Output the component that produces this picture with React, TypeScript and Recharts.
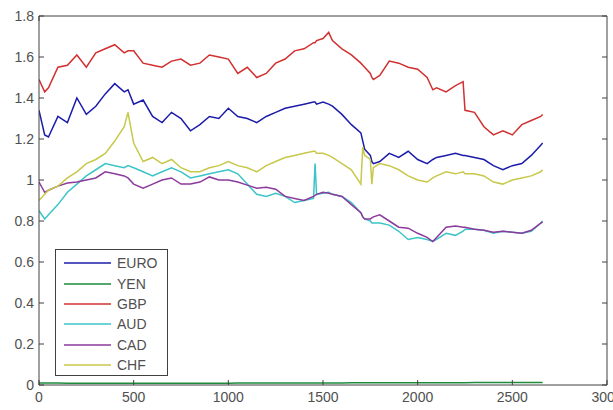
import React from 'react';
import { LineChart, Line, XAxis, YAxis, Legend } from 'recharts';

// trading day index
const days = [
  0, 30, 50, 100, 150, 200, 250, 300, 350, 400,
  450, 470, 500, 550, 600, 650, 700, 750, 800, 850,
  900, 950, 1000, 1050, 1100, 1150, 1200, 1250, 1300, 1350,
  1400, 1450, 1458, 1466, 1500, 1530, 1550, 1600, 1650, 1700,
  1710, 1720, 1750, 1758, 1766, 1800, 1850, 1900, 1950, 2000,
  2050, 2080, 2100, 2150, 2200, 2240, 2250, 2300, 2350, 2400,
  2450, 2500, 2550, 2600, 2650, 2660,
];

const euro = [
  1.34, 1.22, 1.21, 1.31, 1.28, 1.40, 1.32, 1.36, 1.42, 1.47,
  1.43, 1.44, 1.37, 1.39, 1.31, 1.28, 1.33, 1.30, 1.24, 1.27,
  1.31, 1.30, 1.35, 1.31, 1.30, 1.28, 1.31, 1.33, 1.35, 1.36,
  1.37, 1.38, 1.38, 1.37, 1.38, 1.37, 1.36, 1.32, 1.27, 1.23,
  1.19, 1.15, 1.12, 1.09, 1.08, 1.09, 1.13, 1.11, 1.14, 1.10,
  1.08, 1.10, 1.11, 1.12, 1.13, 1.12, 1.12, 1.11, 1.10, 1.07,
  1.05, 1.07, 1.08, 1.12, 1.17, 1.18,
];

const yen = [
  0.0094, 0.0093, 0.0093, 0.0092, 0.0091, 0.0090, 0.0089, 0.0088, 0.0087, 0.0086,
  0.0085, 0.0085, 0.0084, 0.0084, 0.0085, 0.0086, 0.0086, 0.0087, 0.0088, 0.0088,
  0.0089, 0.0090, 0.0091, 0.0092, 0.0093, 0.0094, 0.0095, 0.0096, 0.0097, 0.0098,
  0.0099, 0.0100, 0.0100, 0.0100, 0.0101, 0.0102, 0.0102, 0.0103, 0.0104, 0.0105,
  0.0105, 0.0105, 0.0106, 0.0106, 0.0106, 0.0107, 0.0108, 0.0109, 0.0110, 0.0110,
  0.0111, 0.0112, 0.0112, 0.0113, 0.0114, 0.0115, 0.0115, 0.0116, 0.0117, 0.0118,
  0.0119, 0.0120, 0.0120, 0.0121, 0.0121, 0.0122,
];

const gbp = [
  1.49, 1.43, 1.45, 1.55, 1.56, 1.61, 1.55, 1.62, 1.64, 1.66,
  1.62, 1.63, 1.63, 1.57, 1.56, 1.55, 1.58, 1.59, 1.56, 1.57,
  1.61, 1.60, 1.59, 1.52, 1.55, 1.50, 1.52, 1.57, 1.59, 1.63,
  1.64, 1.67, 1.67, 1.68, 1.69, 1.72, 1.68, 1.64, 1.61, 1.57,
  1.56, 1.55, 1.52, 1.50, 1.49, 1.51, 1.58, 1.57, 1.55, 1.54,
  1.50, 1.44, 1.45, 1.43, 1.46, 1.48, 1.34, 1.33, 1.26, 1.22,
  1.24, 1.22, 1.27, 1.29, 1.31, 1.32,
];

const aud = [
  0.85, 0.81, 0.83, 0.88, 0.94, 0.98, 1.02, 1.05, 1.08, 1.07,
  1.06, 1.07, 1.06, 1.04, 1.02, 1.04, 1.06, 1.04, 1.01, 1.02,
  1.03, 1.04, 1.05, 1.03, 0.98, 0.93, 0.92, 0.935, 0.92, 0.89,
  0.90, 0.91, 1.08, 0.93, 0.935, 0.94, 0.93, 0.92, 0.89, 0.84,
  0.82, 0.81, 0.80, 0.79, 0.79, 0.79, 0.78, 0.75, 0.71, 0.72,
  0.71, 0.70, 0.71, 0.74, 0.73, 0.75, 0.76, 0.76, 0.755, 0.74,
  0.75, 0.745, 0.74, 0.75, 0.79, 0.80,
];

const cad = [
  0.99, 0.94, 0.95, 0.97, 0.985, 0.99, 1.00, 1.01, 1.04, 1.03,
  1.02, 1.01, 0.98, 0.96, 0.98, 1.00, 1.01, 0.98, 0.98, 0.99,
  1.015, 1.00, 1.00, 0.99, 0.975, 0.96, 0.965, 0.955, 0.92, 0.91,
  0.90, 0.92, 0.925, 0.93, 0.94, 0.935, 0.93, 0.92, 0.88, 0.84,
  0.82, 0.81, 0.81, 0.815, 0.82, 0.83, 0.80, 0.77, 0.765, 0.74,
  0.72, 0.70, 0.72, 0.77, 0.775, 0.77, 0.77, 0.76, 0.755, 0.745,
  0.75, 0.745, 0.74, 0.755, 0.79, 0.795,
];

const chf = [
  0.90, 0.93, 0.95, 0.97, 1.01, 1.04, 1.08, 1.10, 1.13, 1.19,
  1.26, 1.33, 1.18, 1.09, 1.11, 1.08, 1.10, 1.06, 1.04, 1.04,
  1.06, 1.07, 1.09, 1.07, 1.06, 1.04, 1.07, 1.09, 1.11, 1.12,
  1.13, 1.14, 1.14, 1.13, 1.13, 1.12, 1.11, 1.08, 1.05, 0.98,
  1.16, 1.12, 1.10, 0.98, 1.06, 1.08, 1.07, 1.05, 1.02, 1.00,
  0.99, 1.01, 1.02, 1.04, 1.03, 1.04, 1.03, 1.03, 1.02, 0.99,
  0.98, 1.00, 1.01, 1.02, 1.04, 1.05,
];

const xTicks = [0, 500, 1000, 1500, 2000, 2500, 3000];
const yTicks = [0, 0.2, 0.4, 0.6, 0.8, 1, 1.2, 1.4, 1.6, 1.8];

const series = [
  { key: 'EURO', color: '#1c1caa' },
  { key: 'YEN', color: '#1e8c3c' },
  { key: 'GBP', color: '#d23030' },
  { key: 'AUD', color: '#3cc4c8' },
  { key: 'CAD', color: '#8c3a9c' },
  { key: 'CHF', color: '#c8c84a' },
];

const data = days.map((d, i) => ({
  day: d,
  EURO: euro[i],
  YEN: yen[i],
  GBP: gbp[i],
  AUD: aud[i],
  CAD: cad[i],
  CHF: chf[i],
}));

const FONT = '"Liberation Sans", Arial, sans-serif';
const AXIS = '#404040';
const TICK_LEN = 5;
const X_GAP = 7;
const Y_GAP = 5;

// MATLAB-style box: tick marks point into the plot on every side.
// With tickSize 0 the tick x/y sits tickMargin away from the axis line.
const BoxTick = ({ x, y, payload, side, gap }: any) => {
  let line: number[];
  let label: React.ReactNode = null;
  if (side === 'bottom') {
    line = [x, y - gap, x, y - gap - TICK_LEN];
    label = (
      <text x={x} y={y} dy="0.71em" textAnchor="middle" fontSize={14} fontFamily={FONT} fill="#505050">
        {String(payload.value)}
      </text>
    );
  } else if (side === 'left') {
    line = [x + gap, y, x + gap + TICK_LEN, y];
    label = (
      <text x={x} y={y} dy="0.355em" textAnchor="end" fontSize={14} fontFamily={FONT} fill="#505050">
        {String(payload.value)}
      </text>
    );
  } else if (side === 'top') {
    line = [x, y + gap, x, y + gap + TICK_LEN];
  } else {
    line = [x - gap, y, x - gap - TICK_LEN, y];
  }
  return (
    <g>
      <line x1={line[0]} y1={line[1]} x2={line[2]} y2={line[3]} stroke={AXIS} strokeWidth={1} />
      {label}
    </g>
  );
};

const LegendBox = () => (
  <div
    style={{
      boxSizing: 'border-box',
      width: 113,
      height: 127,
      border: `1px solid ${AXIS}`,
      background: '#fff',
      paddingTop: 3,
      fontFamily: FONT,
      fontSize: 14,
      color: '#505050',
    }}
  >
    {series.map((s) => (
      <div key={s.key} style={{ display: 'flex', alignItems: 'center', height: 20.4 }}>
        <svg width={47} height={4} style={{ marginLeft: 8, display: 'block' }}>
          <line x1={0} y1={2} x2={47} y2={2} stroke={s.color} strokeWidth={1.5} />
        </svg>
        <span style={{ marginLeft: 6, lineHeight: '14px' }}>{s.key}</span>
      </div>
    ))}
  </div>
);

export default function App() {
  return (
    <div style={{ position: 'absolute', left: 0, top: 0, background: '#fff' }}>
      <LineChart width={613} height={410} data={data} margin={{ top: 15, right: 5, bottom: 0, left: 0 }}>
        <XAxis
          dataKey="day"
          type="number"
          domain={[0, 3000]}
          ticks={xTicks}
          interval={0}
          allowDataOverflow
          height={25}
          stroke={AXIS}
          tickLine={false}
          tickSize={0}
          tickMargin={X_GAP}
          tick={(p: any) => <BoxTick {...p} side="bottom" gap={X_GAP} />}
        />
        <XAxis
          xAxisId="top"
          orientation="top"
          type="number"
          domain={[0, 3000]}
          ticks={xTicks}
          interval={0}
          allowDataOverflow
          height={1}
          stroke={AXIS}
          tickLine={false}
          tickSize={0}
          tickMargin={0}
          tick={(p: any) => <BoxTick {...p} side="top" gap={0} />}
        />
        <YAxis
          type="number"
          domain={[0, 1.8]}
          ticks={yTicks}
          interval={0}
          allowDataOverflow
          width={39}
          stroke={AXIS}
          tickLine={false}
          tickSize={0}
          tickMargin={Y_GAP}
          tick={(p: any) => <BoxTick {...p} side="left" gap={Y_GAP} />}
        />
        <YAxis
          yAxisId="right"
          orientation="right"
          type="number"
          domain={[0, 1.8]}
          ticks={yTicks}
          interval={0}
          allowDataOverflow
          width={1}
          stroke={AXIS}
          tickLine={false}
          tickSize={0}
          tickMargin={0}
          tick={(p: any) => <BoxTick {...p} side="right" gap={0} />}
        />
        {series.map((s) => (
          <Line
            key={s.key}
            type="linear"
            dataKey={s.key}
            name={s.key}
            stroke={s.color}
            strokeWidth={1.5}
            dot={false}
            isAnimationActive={false}
          />
        ))}
        <Legend
          layout="horizontal"
          verticalAlign="middle"
          align="center"
          content={<LegendBox />}
          wrapperStyle={{ left: 55, top: 249, width: 113, height: 127 }}
        />
      </LineChart>
    </div>
  );
}
